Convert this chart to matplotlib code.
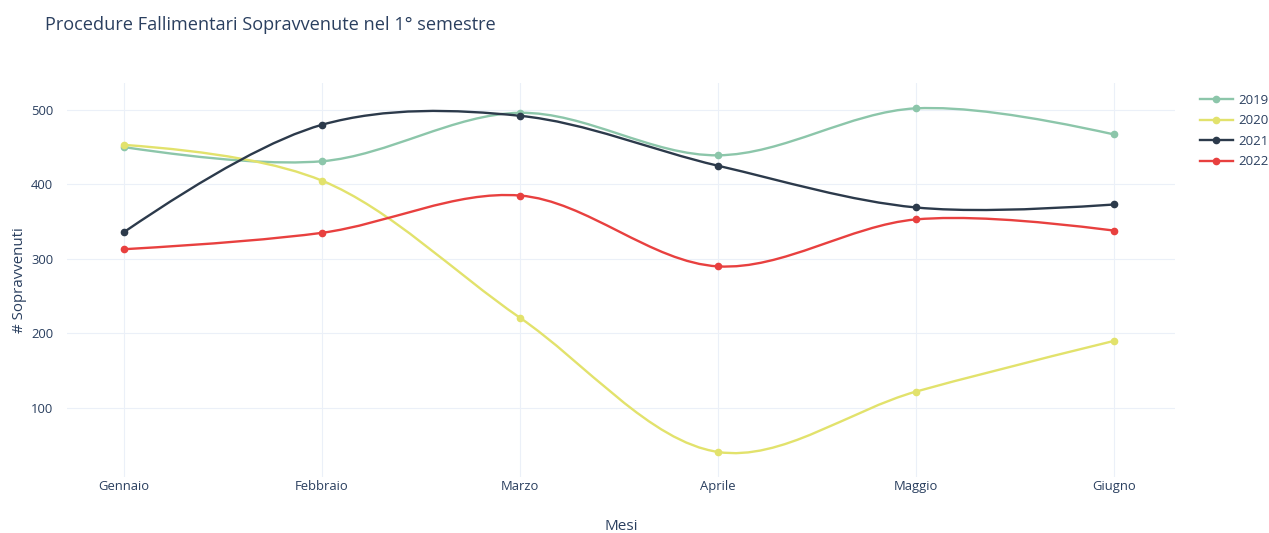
"""Procedure fallimentari sopravvenute nel 1° semestre - plotly-like spline lines."""

import matplotlib
matplotlib.use("Agg")
import matplotlib.pyplot as plt
import numpy as np
from matplotlib.lines import Line2D
from matplotlib.path import Path
from matplotlib.patches import PathPatch

plt.rcParams["font.family"] = ["Open Sans", "DejaVu Sans"]

MESI = ["Gennaio", "Febbraio", "Marzo", "Aprile", "Maggio", "Giugno"]
ANNI = ["2019", "2020", "2021", "2022"]
V2019 = [450, 431, 496, 439, 502, 467]
V2020 = [453, 405, 221, 41, 122, 190]
V2021 = [336, 480, 492, 425, 369, 373]
V2022 = [313, 335, 385, 290, 353, 338]
COLORS = ["#8cc6aa", "#e2e26c", "#2c3a4b", "#e8403f"]

TEXT = "#2a3f5f"
GRID = "#ebf0f8"
W, H = 1269, 533


def _tangent(p0, p1, p2, smooth=1.0):
    # plotly's Catmull-Rom style tangent (exp 0.5), in pixel space
    d1 = p0 - p1
    d2 = p2 - p1
    d1a = np.hypot(*d1) ** 0.5
    d2a = np.hypot(*d2) ** 0.5
    num = (d2a * d2a * d1 - d1a * d1a * d2) * smooth
    den1 = 3 * d2a * (d1a + d2a)
    den2 = 3 * d1a * (d1a + d2a)
    a = p1 + (num / den1 if den1 else 0)
    b = p1 - (num / den2 if den2 else 0)
    return a, b


def spline_path(ax, x, y):
    pts = ax.transData.transform(np.column_stack([x, y]))
    tans = [_tangent(pts[i - 1], pts[i], pts[i + 1]) for i in range(1, len(pts) - 1)]
    verts = [pts[0], tans[0][0], pts[1]]
    codes = [Path.MOVETO, Path.CURVE3, Path.CURVE3]
    for i in range(2, len(pts) - 1):
        verts += [tans[i - 2][1], tans[i - 1][0], pts[i]]
        codes += [Path.CURVE4] * 3
    verts += [tans[-1][1], pts[-1]]
    codes += [Path.CURVE3] * 2
    data = ax.transData.inverted().transform(np.array(verts))
    return Path(data, codes)


fig = plt.figure(figsize=(W / 100, H / 100), dpi=100)
fig.patch.set_facecolor("white")
left, right, top, bottom = 67, 1175, 83, 477
ax = fig.add_axes([left / W, 1 - bottom / H, (right - left) / W, (bottom - top) / H])

xs = np.arange(len(MESI))
ax.set_xlim(-0.288, 5.308)
ax.set_ylim(7.4, 536)

for s in ax.spines.values():
    s.set_visible(False)
ax.set_xticks(xs)
ax.set_xticklabels(MESI)
ax.set_yticks([100, 200, 300, 400, 500])
ax.tick_params(length=0, labelsize=9.4, labelcolor=TEXT)
ax.tick_params(axis="x", pad=2.5)
ax.tick_params(axis="y", pad=10)
ax.grid(True, color=GRID, lw=0.8)
ax.set_axisbelow(True)

series = [V2019, V2020, V2021, V2022]
handles = []
for name, vals, col in zip(ANNI, series, COLORS):
    ax.add_patch(PathPatch(spline_path(ax, xs, vals), fill=False,
                           edgecolor=col, lw=1.7, zorder=2))
    ax.plot(xs, vals, ls="none", marker="o", ms=4.5, color=col, zorder=3)
    handles.append(Line2D([], [], color=col, lw=1.7, marker="o", ms=4.5))

ax.legend(handles, ANNI, loc="upper left",
          bbox_to_anchor=(1200 / W, 1 - 94 / H), bbox_transform=fig.transFigure,
          frameon=False, fontsize=9.5, labelcolor=TEXT, handlelength=2.5,
          handletextpad=0.4, labelspacing=0.56, borderpad=0, borderaxespad=0)

fig.text(45 / W, 1 - 25 / H, "Procedure Fallimentari Sopravvenute nel 1° semestre",
         fontsize=13.1, color=TEXT, ha="left", va="center")
fig.text(621 / W, 1 - 527 / H, "Mesi", fontsize=11, color=TEXT,
         ha="center", va="center")
fig.text(20 / W, 1 - 280 / H, "# Sopravvenuti", fontsize=10.8, color=TEXT,
         ha="center", va="center", rotation=90)

fig.savefig("out.png", dpi=100)
